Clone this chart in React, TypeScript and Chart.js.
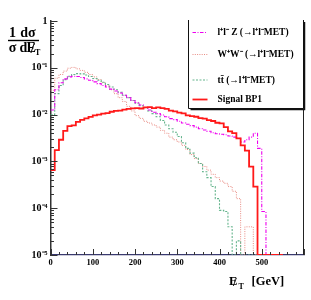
import { useEffect, useRef } from 'react';
import { Chart, registerables } from 'chart.js';

Chart.register(...registerables);

// ---- data ----
const BIN_WIDTH_GEV = 10;
const X_MIN = 0;
const X_MAX = 600;
const Y_MIN = 1e-5;
const Y_MAX = 1;

const xTickValues = [0, 100, 200, 300, 400, 500, 600];
const xTickLabels = ['0', '100', '200', '300', '400', '500', ''];
const yTickValues = [1e-5, 1e-4, 1e-3, 1e-2, 1e-1, 1];
const yTickLabels = ['10⁻⁵', '10⁻⁴', '10⁻³', '10⁻²', '10⁻¹', '1'];

const seriesNames = ['l⁺l⁻ Z (→l⁺l⁻MET)', 'W⁺W⁻ (→l⁺l⁻MET)', 'tt̄ (→l⁺l⁻MET)', 'Signal BP1'];

// normalised distributions, 10 GeV bins from 0 to 550 GeV
const llZ = [
  1.25e-2, 3.4e-2, 4.8e-2, 5.8e-2, 6.4e-2, 6.6e-2, 6.5e-2, 6.2e-2, 5.8e-2, 5.4e-2,
  5.0e-2, 4.6e-2, 4.2e-2, 3.9e-2, 3.5e-2, 3.2e-2, 2.9e-2, 2.6e-2, 2.3e-2, 2.0e-2,
  1.8e-2, 1.6e-2, 1.42e-2, 1.25e-2, 1.12e-2, 1.05e-2, 9.8e-3, 9.0e-3, 8.2e-3, 7.8e-3,
  7.2e-3, 6.6e-3, 6.2e-3, 5.8e-3, 5.4e-3, 5.0e-3, 4.7e-3, 4.4e-3, 4.1e-3, 3.9e-3,
  3.8e-3, 3.7e-3, 3.5e-3, 3.3e-3, 3.1e-3, 2.6e-3, 2.9e-3, 3.3e-3, 4.0e-3, 1.9e-3,
  8.5e-5, 0, 0, 0, 0,
];
const ww = [
  3.3e-2, 6.0e-2, 7.2e-2, 8.5e-2, 9.8e-2, 1.02e-1, 9.5e-2, 8.8e-2, 8.0e-2, 7.2e-2,
  6.4e-2, 5.6e-2, 4.8e-2, 4.1e-2, 3.4e-2, 2.8e-2, 2.3e-2, 1.9e-2, 1.5e-2, 1.2e-2,
  9.5e-3, 8.3e-3, 7.2e-3, 6.6e-3, 6.0e-3, 5.4e-3, 4.6e-3, 4.0e-3, 3.3e-3, 2.9e-3,
  2.6e-3, 2.2e-3, 1.8e-3, 1.4e-3, 1.15e-3, 9.0e-4, 7.8e-4, 6.5e-4, 5.3e-4, 4.5e-4,
  3.8e-4, 3.4e-4, 2.9e-4, 2.3e-4, 1.6e-4, 0, 4e-5, 4e-5, 0, 0,
  0, 0, 0, 0, 0,
];
const ttbar = [
  1.0e-2, 2.8e-2, 4.2e-2, 5.6e-2, 6.6e-2, 7.2e-2, 7.5e-2, 7.4e-2, 7.0e-2, 6.5e-2,
  5.9e-2, 5.4e-2, 4.9e-2, 4.4e-2, 3.9e-2, 3.4e-2, 3.0e-2, 2.6e-2, 2.3e-2, 2.0e-2,
  1.75e-2, 1.55e-2, 1.4e-2, 1.2e-2, 1.05e-2, 9.0e-3, 7.5e-3, 6.0e-3, 5.0e-3, 4.2e-3,
  3.4e-3, 2.5e-3, 1.9e-3, 1.5e-3, 1.2e-3, 9.0e-4, 6.0e-4, 4.5e-4, 2.9e-4, 1.6e-4,
  9e-5, 8.5e-5, 4e-5, 0, 2e-5, 0, 0, 0, 0, 0,
  0, 0, 0, 0, 0,
];
const signalBP1 = [
  6.5e-4, 1.75e-3, 2.9e-3, 4.5e-3, 5.7e-3, 5.9e-3, 7.0e-3, 7.7e-3, 8.3e-3, 8.9e-3,
  9.6e-3, 1.0e-2, 1.05e-2, 1.08e-2, 1.15e-2, 1.2e-2, 1.22e-2, 1.28e-2, 1.33e-2, 1.36e-2,
  1.38e-2, 1.35e-2, 1.42e-2, 1.45e-2, 1.38e-2, 1.42e-2, 1.38e-2, 1.33e-2, 1.22e-2, 1.17e-2,
  1.1e-2, 1.06e-2, 9.6e-3, 9.3e-3, 9.0e-3, 8.4e-3, 8.2e-3, 7.6e-3, 7.3e-3, 6.7e-3,
  6.5e-3, 5.4e-3, 4.4e-3, 4.0e-3, 3.1e-3, 2.2e-3, 1.7e-3, 7.7e-4, 2.9e-4, 0,
  0, 0, 0, 0, 0,
];

const FONT = '"Liberation Serif", "Times New Roman", serif';

// histogram outline: one point per bin low edge plus the last upper edge;
// empty bins sit on the axis minimum, as ROOT draws them
function histPoints(values: number[]) {
  const pts = values.map((v, i) => ({ x: i * BIN_WIDTH_GEV, y: Math.max(v, Y_MIN) }));
  pts.push({ x: values.length * BIN_WIDTH_GEV, y: Math.max(values[values.length - 1], Y_MIN) });
  return pts;
}

const rootDecorations = {
  id: 'rootDecorations',
  afterDatasetsDraw(chart: any) {
    const { ctx, chartArea, scales } = chart;
    const xs = scales.x;
    const ys = scales.y;
    ctx.save();
    ctx.strokeStyle = '#333';
    ctx.lineWidth = 1;
    // inner y ticks
    for (let k = -5; k <= 0; k++) {
      for (let m = 1; m <= 9; m++) {
        const v = m * Math.pow(10, k);
        if (v > Y_MAX * 1.0001) break;
        const py = Math.round(ys.getPixelForValue(v)) + 0.5;
        const len = m === 1 ? 7 : 3.5;
        ctx.beginPath();
        ctx.moveTo(chartArea.left, py);
        ctx.lineTo(chartArea.left + len, py);
        ctx.stroke();
      }
    }
    // inner x ticks
    for (let v = X_MIN; v <= X_MAX; v += 20) {
      const px = Math.round(xs.getPixelForValue(v)) + 0.5;
      const len = v % 100 === 0 ? 6 : 3;
      ctx.beginPath();
      ctx.moveTo(px, chartArea.bottom);
      ctx.lineTo(px, chartArea.bottom - len);
      ctx.stroke();
    }
    // right frame
    ctx.strokeStyle = '#222';
    ctx.beginPath();
    ctx.moveTo(chartArea.right - 0.5, chartArea.top);
    ctx.lineTo(chartArea.right - 0.5, chartArea.bottom);
    ctx.stroke();
    ctx.restore();
  },
  afterDraw(chart: any) {
    const { ctx, chartArea } = chart;
    ctx.save();
    // ---- legend ----
    const l = chartArea.right - 115.5;
    const r = chartArea.right - 0.5;
    const t = chartArea.top - 1;
    const b = chartArea.top + 87.5;
    ctx.fillStyle = '#fff';
    ctx.fillRect(l, t, r - l, b - t);
    ctx.strokeStyle = '#111';
    ctx.lineWidth = 1;
    ctx.beginPath();
    ctx.moveTo(l, t);
    ctx.lineTo(l, b);
    ctx.lineTo(r, b);
    ctx.lineTo(r, t);
    ctx.stroke();
    // shadow
    ctx.lineWidth = 1.5;
    ctx.beginPath();
    ctx.moveTo(l + 2, b + 1);
    ctx.lineTo(r + 1, b + 1);
    ctx.lineTo(r + 1, t + 2);
    ctx.stroke();

    const rows = [11.5, 33.5, 59, 78.5];
    chart.data.datasets.forEach((ds: any, i: number) => {
      const y = chartArea.top + rows[i];
      ctx.strokeStyle = ds.borderColor;
      ctx.lineWidth = ds.borderWidth;
      ctx.setLineDash(ds.borderDash || []);
      ctx.beginPath();
      ctx.moveTo(l + 4, y);
      ctx.lineTo(l + 19, y);
      ctx.stroke();
      ctx.setLineDash([]);
      ctx.fillStyle = '#000';
      ctx.font = `bold 9.5px ${FONT}`;
      ctx.textAlign = 'left';
      ctx.textBaseline = 'middle';
      ctx.fillText(ds.label, l + 29, y + 0.5);
    });

    // ---- y-axis title: 1/σ dσ/dE̸_T ----
    ctx.fillStyle = '#000';
    ctx.strokeStyle = '#000';
    ctx.textBaseline = 'alphabetic';
    ctx.textAlign = 'center';
    ctx.font = `bold 14px ${FONT}`;
    ctx.fillText('1', 12.5, 37);
    ctx.fillText('σ', 12.5, 52);
    ctx.fillText('dσ', 28, 37);
    ctx.lineWidth = 1.4;
    ctx.beginPath();
    ctx.moveTo(8, 40.5);
    ctx.lineTo(39, 40.5);
    ctx.stroke();
    ctx.textAlign = 'left';
    ctx.fillText('d', 19.5, 52);
    ctx.fillText('E', 26.5, 52);
    ctx.font = `bold 15px ${FONT}`;
    ctx.fillText('/', 30.5, 53);
    ctx.font = `bold 8px ${FONT}`;
    ctx.fillText('T', 35, 55);

    // ---- x-axis title: E̸_T [GeV] ----
    ctx.font = `bold 12.5px ${FONT}`;
    ctx.fillText('E', 229, 285);
    ctx.font = `bold 13px ${FONT}`;
    ctx.fillText('/', 233, 286);
    ctx.font = `bold 8px ${FONT}`;
    ctx.fillText('T', 238.5, 289);
    ctx.font = `bold 12.5px ${FONT}`;
    ctx.fillText('[GeV]', 251.5, 285);
    ctx.restore();
  },
};

export default function App() {
  const canvasRef = useRef<HTMLCanvasElement | null>(null);

  useEffect(() => {
    if (!canvasRef.current) return;
    const common = { stepped: true, pointRadius: 0, fill: false, tension: 0 };
    const chart = new Chart(canvasRef.current, {
      type: 'line',
      data: {
        datasets: [
          { ...common, label: seriesNames[0], data: histPoints(llZ), borderColor: 'rgb(238,0,238)', borderWidth: 1.1, borderDash: [3.5, 1.5, 1, 1.5], order: 2 },
          { ...common, label: seriesNames[1], data: histPoints(ww), borderColor: 'rgb(232,140,132)', borderWidth: 1, borderDash: [1, 1.3], order: 4 },
          { ...common, label: seriesNames[2], data: histPoints(ttbar), borderColor: 'rgb(100,180,140)', borderWidth: 1.1, borderDash: [2, 1.5], order: 3 },
          { ...common, label: seriesNames[3], data: histPoints(signalBP1), borderColor: 'rgb(255,25,25)', borderWidth: 1.8, order: 1 },
        ],
      },
      options: {
        responsive: false,
        animation: false,
        events: [],
        layout: { padding: { left: 0, top: 21, right: 7, bottom: 0 } },
        plugins: { legend: { display: false }, tooltip: { enabled: false } },
        scales: {
          x: {
            type: 'linear',
            min: X_MIN,
            max: X_MAX,
            afterBuildTicks: (s: any) => { s.ticks = xTickValues.map((v) => ({ value: v })); },
            afterFit: (s: any) => { s.height = 45; },
            ticks: {
              autoSkip: false,
              maxRotation: 0,
              padding: 3,
              color: '#000',
              font: { family: FONT, size: 8.5, weight: 'bold' },
              callback: (v: any) => xTickLabels[xTickValues.indexOf(Number(v))] ?? '',
            },
            grid: { display: false, drawTicks: false },
            border: { display: true, color: '#3a3a70', width: 1.2 },
          },
          y: {
            type: 'logarithmic',
            min: Y_MIN,
            max: Y_MAX,
            afterBuildTicks: (s: any) => { s.ticks = yTickValues.map((v) => ({ value: v })); },
            afterFit: (s: any) => { s.width = 50.5; },
            ticks: {
              autoSkip: false,
              padding: 3,
              color: '#000',
              font: { family: FONT, size: 10, weight: 'bold' },
              callback: (v: any) => {
                const i = yTickValues.findIndex((t) => Math.abs(Math.log10(t) - Math.log10(Number(v))) < 1e-6);
                return i >= 0 ? yTickLabels[i] : '';
              },
            },
            grid: { display: false, drawTicks: false },
            border: { display: true, color: '#333', width: 1.5 },
          },
        },
      },
      plugins: [rootDecorations],
    } as any);
    return () => chart.destroy();
  }, []);

  return (
    <div style={{ position: 'fixed', left: 0, top: 0, width: 311, height: 300, background: '#fff' }}>
      <canvas ref={canvasRef} width={311} height={300} />
    </div>
  );
}
